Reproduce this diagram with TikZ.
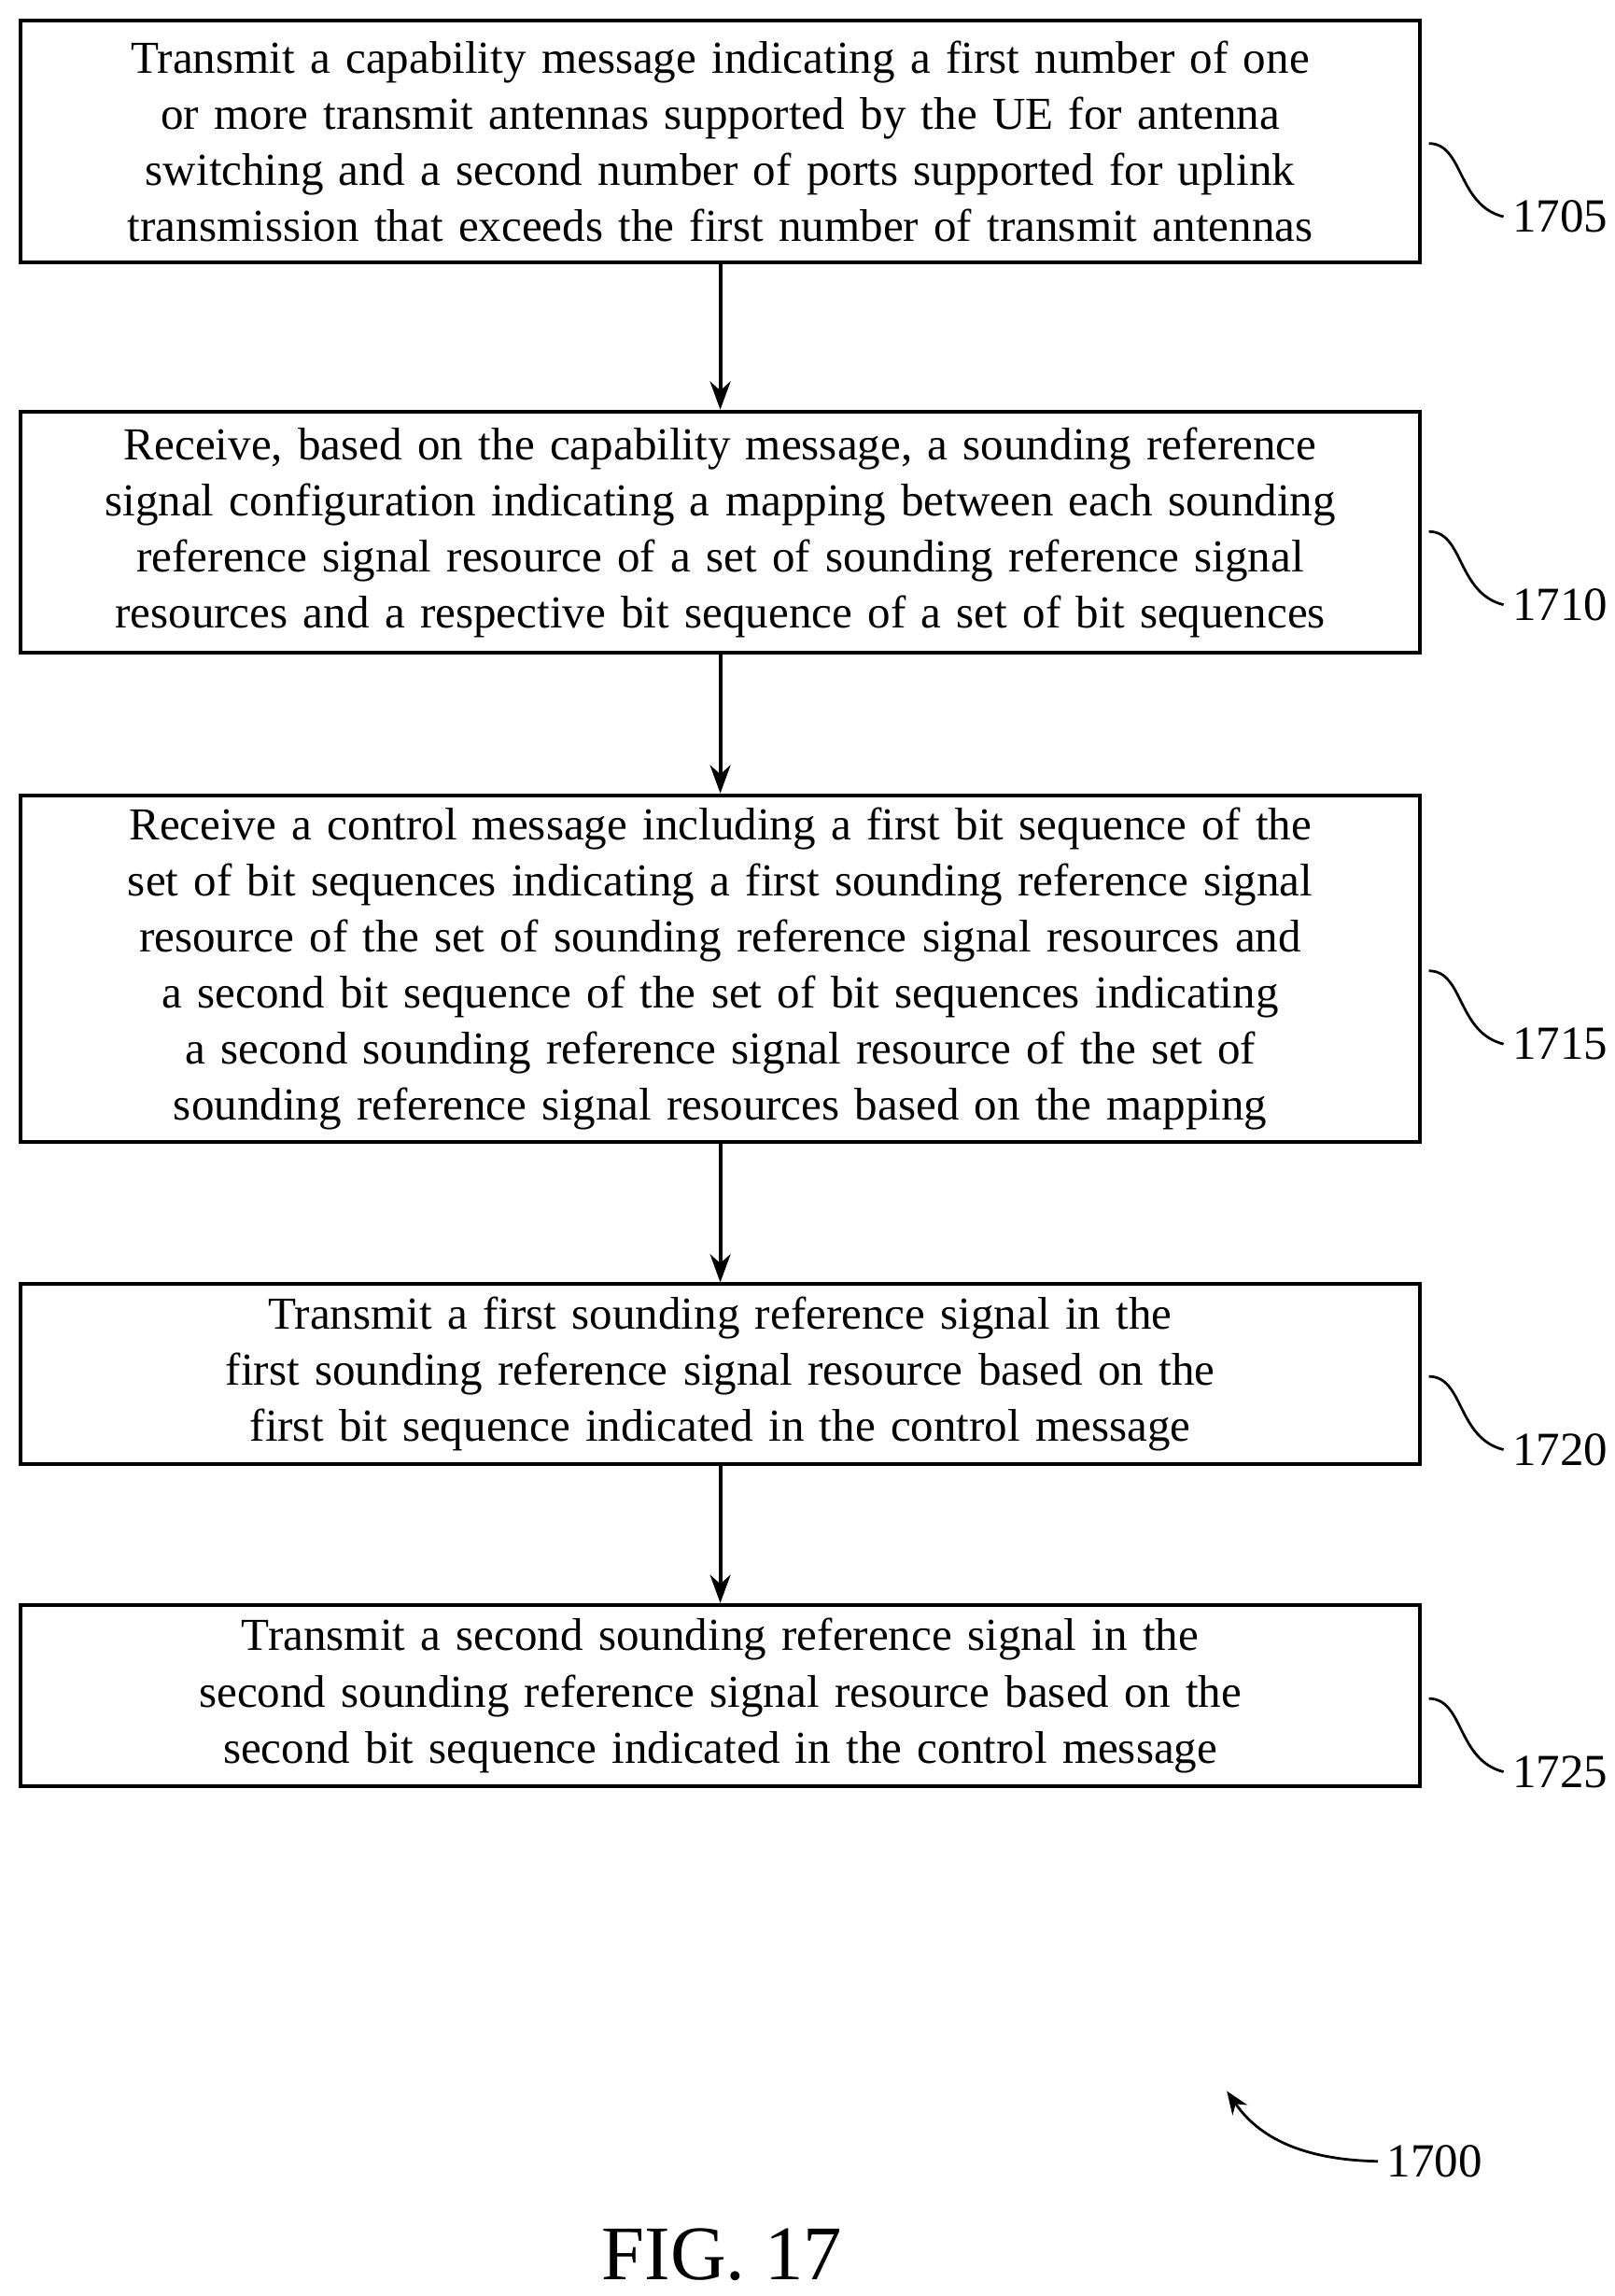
\documentclass[tikz,border=0pt]{standalone}
\usepackage{fontspec}
\setmainfont{Liberation Serif}
\usetikzlibrary{arrows.meta}
\begin{document}
\begin{tikzpicture}[x=0.02cm,y=-0.02cm,
 box/.style={draw,line width=1.4pt,minimum width=19.12cm,text width=18.9cm,align=center,inner sep=0pt,font=\fontsize{17.8}{21.8}\selectfont,execute at begin node={\hyphenpenalty=10000\exhyphenpenalty=10000}},
 arr/.style={line width=1.4pt,-{Stealth[length=11pt,width=8pt]}},
 lab/.style={font=\fontsize{18.5}{22}\selectfont}]
\useasboundingbox (0,0) rectangle (1103,1568);
\node[box,minimum height=3.3cm] (b1) at (492,96.5) {Transmit a capability message indicating a first number of one or more transmit antennas supported by the UE for antenna switching and a second number of ports supported for uplink transmission that exceeds the first number of transmit antennas};
\node[box,minimum height=3.3cm] (b2) at (492,363.5) {Receive, based on the capability message, a sounding reference signal configuration indicating a mapping between each sounding reference signal resource of a set of sounding reference signal resources and a respective bit sequence of a set of bit sequences};
\node[box,minimum height=4.74cm] (b3) at (492,661.5) {Receive a control message including a first bit sequence of the set of bit sequences indicating a first sounding reference signal resource of the set of sounding reference signal resources and a second bit sequence of the set of bit sequences indicating a second sounding reference signal resource of the set of sounding reference signal resources based on the mapping};
\node[box,minimum height=2.46cm] (b4) at (492,938.5) {Transmit a first sounding reference signal in the first sounding reference signal resource based on the first bit sequence indicated in the control message};
\node[box,minimum height=2.48cm] (b5) at (492,1158) {Transmit a second sounding reference signal in the second sounding reference signal resource based on the second bit sequence indicated in the control message};
\draw[arr] (b1) -- (b2);
\draw[arr] (b2) -- (b3);
\draw[arr] (b3) -- (b4);
\draw[arr] (b4) -- (b5);
\foreach \n/\y/\t in {1/98/1705,2/363/1710,3/663/1715,4/940/1720,5/1160/1725}{
 \node[lab,anchor=west] (l\n) at (1027,\y+50) {\t};
 \draw[line width=1pt] (976,\y) .. controls (1000,\y) and (995,\y+42) .. (l\n.west);
}
\node[lab] (l0) at (980,1476) {1700};
\coordinate (c0) at (838,1428);
\draw[line width=1pt,-{Stealth[length=9pt,width=7pt]}] (l0.west) .. controls (890,1475) and (860,1460) .. (c0);
\node[font=\fontsize{30}{34}\selectfont] (fig) at (493,1540) {FIG. 17};
\end{tikzpicture}
\end{document}
